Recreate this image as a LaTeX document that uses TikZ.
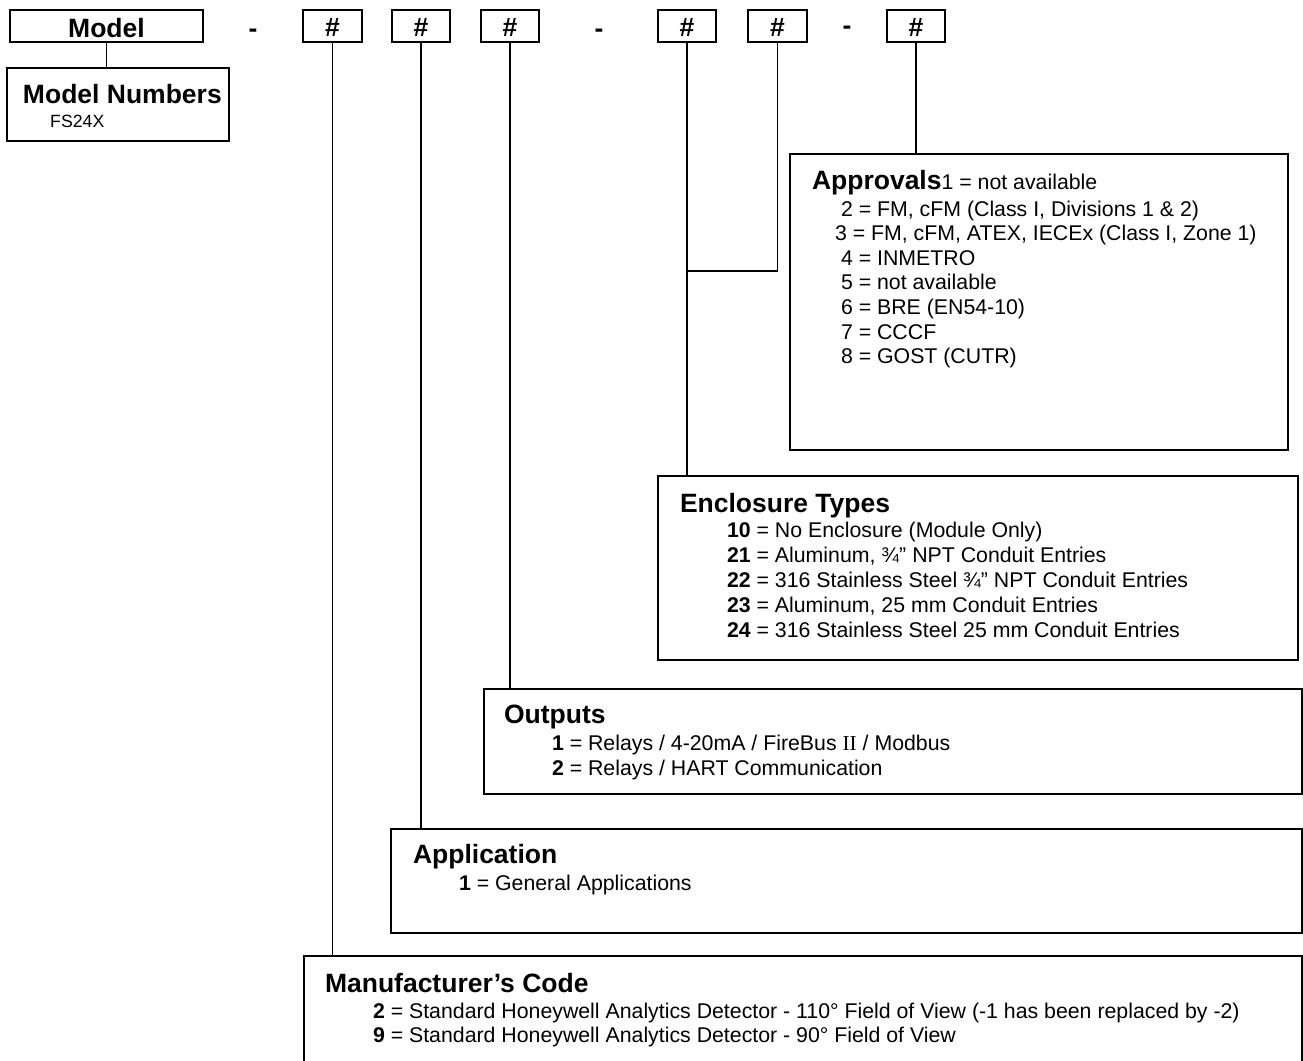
\documentclass[tikz,border=0pt]{standalone}
\usepackage{fontspec}
\setmainfont{Liberation Sans}
\newfontfamily\serifII{Liberation Serif}
\newcommand\myBody{\fontsize{21.3pt}{25pt}\selectfont}
\newcommand\myHead{\fontsize{26.5pt}{30pt}\selectfont\bfseries}
\newcommand\mySmall{\fontsize{17.7pt}{21pt}\selectfont}
\tikzset{
  box/.style={draw, line width=1.8pt, inner sep=0pt, outer sep=0pt, anchor=north west},
  lbl/.style={anchor=base west, inner sep=0pt, outer sep=0pt, font=\myBody},
  hlbl/.style={anchor=base west, inner sep=0pt, outer sep=0pt, font=\myHead},
  clbl/.style={anchor=base, inner sep=0pt, outer sep=0pt, font=\myHead},
  conn/.style={line width=1.8pt},
}
\begin{document}
\begin{tikzpicture}[x=1pt,y=-1pt]
\useasboundingbox (0,0) rectangle (1303,1060);
\clip (0,0) rectangle (1303,1060);
% top row boxes
\node[box, minimum width=193pt, minimum height=32pt] (model) at (10,10) {};
\node[box, minimum width=59pt, minimum height=32pt] (h1) at (303,10) {};
\node[box, minimum width=58pt, minimum height=32pt] (h2) at (392,10) {};
\node[box, minimum width=58pt, minimum height=32pt] (h3) at (481,10) {};
\node[box, minimum width=58pt, minimum height=32pt] (h4) at (658,10) {};
\node[box, minimum width=59pt, minimum height=32pt] (h5) at (748,10) {};
\node[box, minimum width=58pt, minimum height=32pt] (h6) at (887,10) {};
\node[clbl] (tmodel) at (106.5,37) {Model};
\node[clbl] (t1) at (332.5,36) {\#};
\node[clbl] (t2) at (421,36) {\#};
\node[clbl] (t3) at (510,36) {\#};
\node[clbl] (t4) at (687,36) {\#};
\node[clbl] (t5) at (777.5,36) {\#};
\node[clbl] (t6) at (916,36) {\#};
\node[clbl] (d1) at (253,37) {-};
\node[clbl] (d2) at (599,37) {-};
\node[clbl] (d3) at (847,34) {-};
% description boxes
\node[box, minimum width=222pt, minimum height=73pt] (mnum) at (7,68) {};
\node[box, minimum width=498pt, minimum height=296pt] (appr) at (790,154) {};
\node[box, minimum width=640pt, minimum height=184pt] (encl) at (658,476) {};
\node[box, minimum width=818pt, minimum height=105pt] (outp) at (484,689) {};
\node[box, minimum width=911pt, minimum height=104pt] (appl) at (391,829) {};
\node[box, minimum width=998pt, minimum height=130pt] (mfr) at (304,956) {};
% connectors
\coordinate (j45) at (687,271);
\draw[conn] (model.south) -- (model.south |- mnum.north);
\draw[conn] (h1.south) -- (h1.south |- mfr.north);
\draw[conn] (h2.south) -- (h2.south |- appl.north);
\draw[conn] (h3.south) -- (h3.south |- outp.north);
\draw[conn] (h4.south) -- (h4.south |- encl.north);
\draw[conn] (h5.south) |- (j45);
\draw[conn] (h6.south) -- (h6.south |- appr.north);
% Model numbers
\node[hlbl] (mnh) at (23,103) {Model Numbers};
\node[anchor=base west, inner sep=0pt, font=\mySmall] (mn1) at (50,127) {FS24X};
% Approvals
\node[lbl] (aph) at (812,189) {{\myHead Approvals}1 = not available};
\node[lbl] (ap2) at (841,216) {2 = FM, cFM (Class I, Divisions 1 \& 2)};
\node[lbl] (ap3) at (835,240.6) {3 = FM, cFM, ATEX, IECEx (Class I, Zone 1)};
\node[lbl] (ap4) at (841,265.2) {4 = INMETRO};
\node[lbl] (ap5) at (841,289.8) {5 = not available};
\node[lbl] (ap6) at (841,314.4) {6 = BRE (EN54-10)};
\node[lbl] (ap7) at (841,339) {7 = CCCF};
\node[lbl] (ap8) at (841,363.6) {8 = GOST (CUTR)};
% Enclosure
\node[hlbl] (enh) at (680,512) {Enclosure Types};
\node[lbl] (en1) at (727,537) {\textbf{10} = No Enclosure (Module Only)};
\node[lbl] (en2) at (727,562) {\textbf{21} = Aluminum, ¾” NPT Conduit Entries};
\node[lbl] (en3) at (727,587) {\textbf{22} = 316 Stainless Steel ¾” NPT Conduit Entries};
\node[lbl] (en4) at (727,612) {\textbf{23} = Aluminum, 25 mm Conduit Entries};
\node[lbl] (en5) at (727,637) {\textbf{24} = 316 Stainless Steel 25 mm Conduit Entries};
% Outputs
\node[hlbl] (ouh) at (504,723) {Outputs};
\node[lbl] (ou1) at (552,750) {\textbf{1} = Relays / 4-20mA / FireBus {\serifII II} / Modbus};
\node[lbl] (ou2) at (552,775) {\textbf{2} = Relays / HART Communication};
% Application
\node[hlbl] (alh) at (413,863) {Application};
\node[lbl] (al1) at (459,890) {\textbf{1} = General Applications};
% Manufacturer
\node[hlbl] (mfh) at (325,992) {Manufacturer’s Code};
\node[lbl] (mf1) at (373,1018) {\textbf{2} = Standard Honeywell Analytics Detector - 110° Field of View (-1 has been replaced by -2)};
\node[lbl] (mf2) at (373,1042) {\textbf{9} = Standard Honeywell Analytics Detector - 90° Field of View};
\end{tikzpicture}
\end{document}
